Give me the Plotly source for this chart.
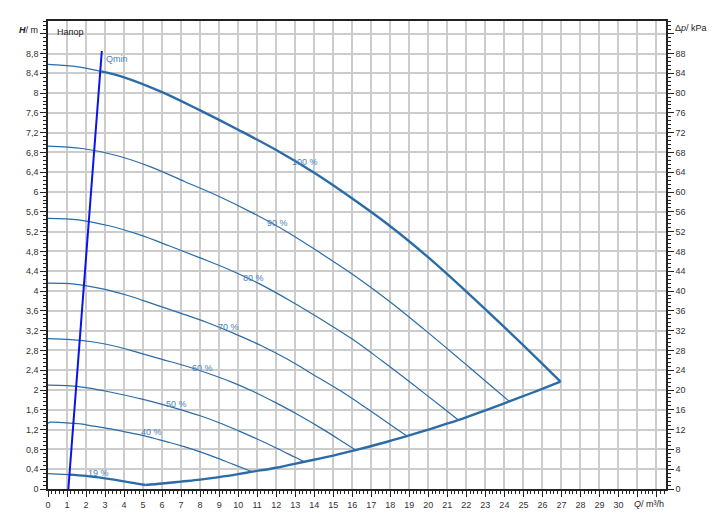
import plotly.graph_objects as go

# --- data ---
q_100 = [0, 1.4, 2.8, 4, 6, 8, 10, 12, 14, 16, 18, 20, 22, 24, 26, 26.95]
h_100 = [8.58, 8.54, 8.44, 8.32, 8.02, 7.65, 7.26, 6.85, 6.39, 5.87, 5.31, 4.68, 3.99, 3.27, 2.53, 2.17]

q_90 = [0, 1.8, 3.6, 5.4, 7.2, 9, 10.8, 12.6, 14.4, 16.2, 18, 19.8, 21.6, 23.4, 24.26]
h_90 = [6.93, 6.88, 6.74, 6.51, 6.21, 5.91, 5.57, 5.19, 4.75, 4.29, 3.78, 3.22, 2.64, 2.05, 1.77]

q_80 = [0, 1.6, 3.2, 4.8, 6.4, 8, 9.6, 11.2, 12.8, 14.4, 16, 17.6, 19.2, 20.8, 21.56]
h_80 = [5.47, 5.44, 5.32, 5.14, 4.91, 4.67, 4.42, 4.13, 3.79, 3.42, 3.03, 2.58, 2.11, 1.63, 1.40]

q_70 = [0, 1.4, 2.8, 4.2, 5.6, 7, 8.4, 9.8, 11.2, 12.6, 14, 15.4, 16.8, 18.2, 18.87]
h_70 = [4.16, 4.14, 4.05, 3.91, 3.73, 3.55, 3.36, 3.14, 2.90, 2.62, 2.30, 1.98, 1.62, 1.25, 1.07]

q_60 = [0, 1.2, 2.4, 3.6, 4.8, 6, 7.2, 8.4, 9.6, 10.8, 12, 13.2, 14.4, 15.6, 16.17]
h_60 = [3.04, 3.02, 2.97, 2.88, 2.75, 2.62, 2.49, 2.34, 2.17, 1.97, 1.74, 1.49, 1.22, 0.93, 0.79]

q_50 = [0, 1, 2, 3, 4, 5, 6, 7, 8, 9, 10, 11, 12, 13, 13.48]
h_50 = [2.10, 2.09, 2.05, 1.98, 1.90, 1.81, 1.71, 1.60, 1.48, 1.34, 1.18, 1.01, 0.83, 0.64, 0.55]

q_40 = [0, 0.15, 0.8, 1.6, 2.4, 3.2, 4, 4.8, 5.6, 6.4, 7.2, 8, 8.8, 9.6, 10.4, 10.75]
h_40 = [1.33, 1.35, 1.34, 1.32, 1.27, 1.22, 1.16, 1.10, 1.02, 0.94, 0.85, 0.75, 0.64, 0.52, 0.40, 0.35]

q_19 = [0, 0.5, 1.1, 2, 3, 4, 5.12]
h_19 = [0.31, 0.30, 0.29, 0.265, 0.215, 0.155, 0.08]

# lower limit (end of the speed curves)
q_min_curve = [5.12, 6, 7, 8, 9, 10, 10.75, 12, 13.48, 15, 16.17, 17.5, 18.87, 20, 21.56, 23, 24.26, 25.5, 26.95]
h_min_curve = [0.08, 0.11, 0.15, 0.19, 0.24, 0.30, 0.35, 0.43, 0.55, 0.675, 0.785, 0.92, 1.07, 1.20, 1.39, 1.59, 1.77, 1.95, 2.17]

q_qmin = [1.07, 2.83]
h_qmin = [0, 8.85]

x_ticks = list(range(0, 33))
x_labels = [str(v) for v in range(0, 31)] + ["", ""]
y_ticks = [round(i * 0.4, 1) for i in range(0, 24)]
y_labels = ["0", "0,4", "0,8", "1,2", "1,6", "2", "2,4", "2,8", "3,2", "3,6", "4", "4,4",
            "4,8", "5,2", "5,6", "6", "6,4", "6,8", "7,2", "7,6", "8", "8,4", "8,8", ""]
kpa_ticks = list(range(0, 96, 4))
kpa_labels = [str(v) for v in range(0, 92, 4)] + [""]

curve_labels = ["100 %", "90 %", "80 %", "70 %", "60 %", "50 %", "40 %", "19 %"]
label_pos = [(13.5, 6.6), (12.05, 5.37), (10.8, 4.27), (9.47, 3.28),
             (8.1, 2.45), (6.74, 1.71), (5.42, 1.15), (2.63, 0.32)]

COR = "#2b6ca8"
COR_TXT = "#4a82bd"
FONTE = "Liberation Sans, Arial, sans-serif"

fig = go.Figure()

def linha(q, h, largura):
    fig.add_trace(go.Scatter(x=q, y=h, mode="lines", line=dict(color=COR, width=largura, shape="spline"),
                             hoverinfo="skip", showlegend=False))

# thin parts
for q, h in [(q_90, h_90), (q_80, h_80), (q_70, h_70), (q_60, h_60), (q_50, h_50), (q_40, h_40)]:
    linha(q, h, 1.2)
linha(q_100[:3], h_100[:3], 1.2)
linha(q_19[:3], h_19[:3], 1.2)
# thick parts (operating area border)
linha(q_100[2:], h_100[2:], 2.4)
linha(q_19[2:], h_19[2:], 2.4)
linha(q_min_curve, h_min_curve, 2.4)

fig.add_trace(go.Scatter(x=q_qmin, y=h_qmin, mode="lines", line=dict(color="#0a14e6", width=2),
                         hoverinfo="skip", showlegend=False))

# dummy trace so the right axis is drawn
fig.add_trace(go.Scatter(x=[0], y=[0], yaxis="y2", mode="markers", marker=dict(opacity=0),
                         hoverinfo="skip", showlegend=False))

anotacoes = []
for txt, (qx, hy) in zip(curve_labels, label_pos):
    anotacoes.append(dict(x=qx, y=hy, text=txt, showarrow=False, xanchor="center", yanchor="middle",
                          font=dict(size=9, color=COR_TXT, family=FONTE)))
anotacoes += [
    dict(x=2.95, y=8.69, text="Qmin", showarrow=False, xanchor="left", yanchor="middle",
         font=dict(size=9, color=COR_TXT, family=FONTE)),
    dict(xref="paper", yref="paper", x=0.011, y=0.977, text="Напор", showarrow=False,
         xanchor="left", yanchor="middle", font=dict(size=9, color="#222", family=FONTE)),
    dict(xref="paper", yref="paper", x=-0.031, y=0.9815, text="<b><i>H</i></b>/ m", showarrow=False,
         xanchor="center", yanchor="middle", font=dict(size=9, color="#222", family=FONTE)),
    dict(xref="paper", yref="paper", x=1.012, y=0.984, text="Δ<i>p</i>/ kPa", showarrow=False,
         xanchor="left", yanchor="middle", font=dict(size=9, color="#222", family=FONTE)),
    dict(xref="paper", yref="paper", x=0.972, y=-0.031, text="<i>Q</i>/ m³/h", showarrow=False,
         xanchor="center", yanchor="middle", font=dict(size=9, color="#222", family=FONTE)),
]

# the page adds an 8 px body margin, so the figure is 8 px smaller on each side
fig.update_layout(
    width=712, height=524,
    margin=dict(l=40, r=54.3, t=11.3, b=42.7),
    paper_bgcolor="white", plot_bgcolor="white",
    font=dict(family=FONTE, size=9, color="#333"),
    annotations=anotacoes,
    xaxis=dict(range=[0, 32.5], tickvals=x_ticks, ticktext=x_labels, showgrid=True,
               gridcolor="#cccccc", gridwidth=1.5, zeroline=False,
               showline=True, linecolor="#222", linewidth=1.5, mirror=True,
               ticks="outside", ticklen=6, tickcolor="#222",
               minor=dict(ticks="outside", dtick=0.2, ticklen=3, tickcolor="#222", showgrid=False)),
    yaxis=dict(range=[0, 9.457], tickvals=y_ticks, ticktext=y_labels, showgrid=True,
               gridcolor="#cccccc", gridwidth=1.5, zeroline=False,
               showline=True, linecolor="#222", linewidth=1.5,
               ticks="outside", ticklen=6, tickcolor="#222",
               minor=dict(ticks="outside", dtick=0.08, ticklen=3, tickcolor="#222", showgrid=False)),
    yaxis2=dict(range=[0, 94.57], overlaying="y", side="right", tickvals=kpa_ticks, ticktext=kpa_labels,
                showgrid=False, zeroline=False, showline=True, linecolor="#222", linewidth=1.5,
                ticks="outside", ticklen=6, tickcolor="#222",
                minor=dict(ticks="outside", dtick=0.8, ticklen=3, tickcolor="#222", showgrid=False)),
)

fig.write_html("out.html")
